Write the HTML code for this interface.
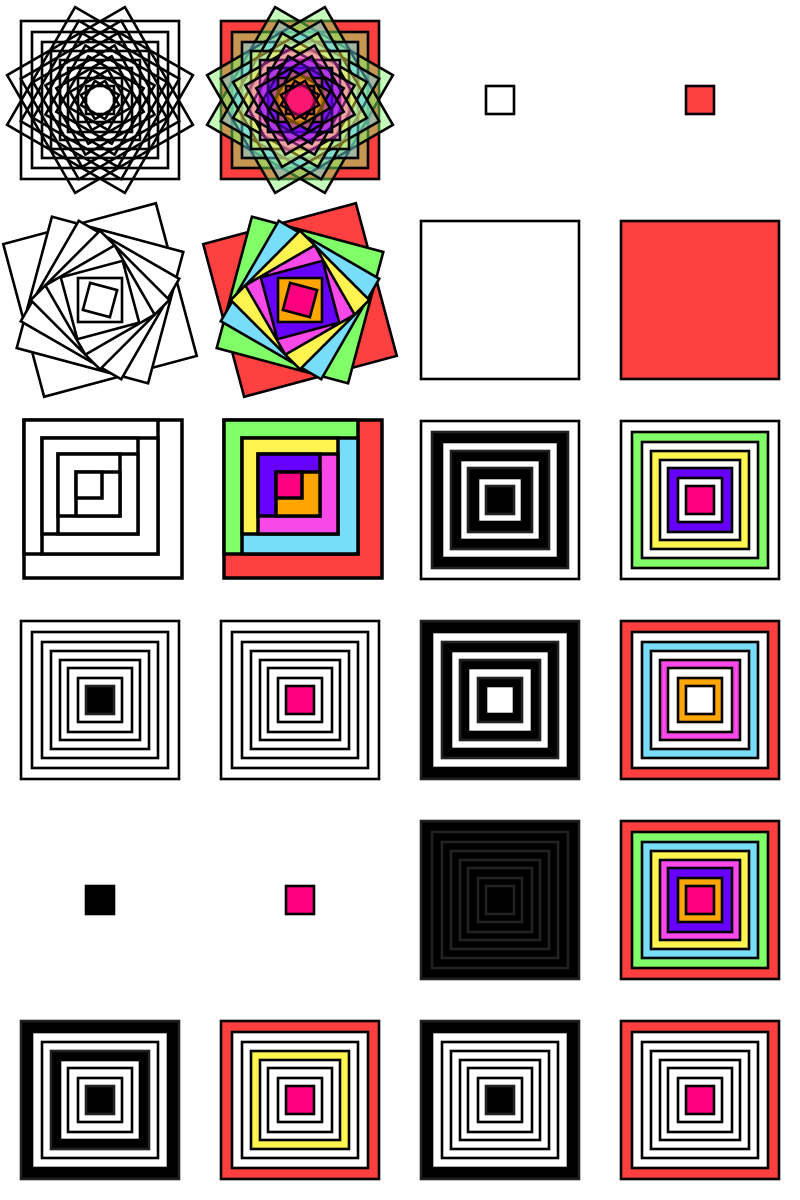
<!DOCTYPE html>
<html><head><meta charset="utf-8"><style>
html,body{margin:0;padding:0;background:#fff;}
svg{display:block;}
</style></head><body>
<svg id="c" width="800" height="1200" viewBox="0 0 800 1200"></svg>
<script>
const NS='http://www.w3.org/2000/svg';
const halfSizes=[79,68,58,49,40,32,22,14];
const palette=['#ff4040','#80ff68','#78ddf8','#fff44f','#f848e8','#6600ff','#ffa500','#ff0080'];
const spiralAngles=[-15,15,30,45,60,75,90,105];
const starAngles=[0,30,60];
const lSizes=[158,134,116,96,80,62,44,26];
const W='#ffffff',K='#000000';
const cellFills={
 r3c3:[W,K,W,K,W,K,W,K],
 r3c4:[W,palette[1],W,palette[3],W,palette[5],W,palette[7]],
 r4c1:[W,W,W,W,W,W,W,K],
 r4c2:[W,W,W,W,W,W,W,palette[7]],
 r4c3:[K,W,K,W,K,W,K,W],
 r4c4:[palette[0],W,palette[2],W,palette[4],W,palette[6],W],
 r5c3:[K,K,K,K,K,K,K,K],
 r5c4:palette,
 r6c1:[K,W,W,K,W,W,W,K],
 r6c2:[palette[0],W,W,palette[3],W,W,W,palette[7]],
 r6c3:[K,W,W,W,W,W,W,K],
 r6c4:[palette[0],W,W,W,W,W,W,palette[7]]
};
const svg=document.getElementById('c');
function cellGroup(r,c){
 const g=document.createElementNS(NS,'g');
 g.setAttribute('transform','translate('+(c*200)+','+(r*200)+')');
 
 
 svg.appendChild(g);return g;
}
function sq(g,x,y,w,h,fill,stroke,sw,rot,op){
 const e=document.createElementNS(NS,'rect');
 e.setAttribute('x',x);e.setAttribute('y',y);e.setAttribute('width',w);e.setAttribute('height',h);
 e.setAttribute('fill',fill);e.setAttribute('stroke',stroke);e.setAttribute('stroke-width',sw);
 if(op!==undefined)e.setAttribute('fill-opacity',op);
 if(rot)e.setAttribute('transform','rotate('+rot+' 100 100)');
 
 
 g.appendChild(e);return e;
}
function centered(g,i,fill,rot,op,stroke){
 const h=halfSizes[i];
 sq(g,100-h,100-h,2*h,2*h,fill,stroke||'#000',2.6,rot,op);
}
// row 1 star patterns
[[0,false],[1,true]].forEach(([c,col])=>{
 const g=cellGroup(0,c);
 halfSizes.forEach((h,i)=>{
  const angs=i===0?[0]:starAngles;
  angs.forEach(a=>centered(g,i,col?palette[i]:'none',a,col?(i===0?1:0.45):undefined));
 });
});
{const g=cellGroup(0,2);centered(g,7,W);}
{const g=cellGroup(0,3);centered(g,7,palette[0]);}
// row 2 spirals
[[0,false],[1,true]].forEach(([c,col])=>{
 const g=cellGroup(1,c);
 halfSizes.forEach((h,i)=>centered(g,i,col?palette[i]:W,spiralAngles[i]));
});
{const g=cellGroup(1,2);centered(g,0,W);}
{const g=cellGroup(1,3);centered(g,0,palette[0]);}
// row 3 L-spirals
[[0,false],[1,true]].forEach(([c,col])=>{
 const g=cellGroup(2,c);
 let x=24,y=20,s=lSizes[0];
 halfSizes.forEach((h,i)=>{
  s=lSizes[i];
  if(i>0){
   const prev=lSizes[i-1];
   if(i%2===0){x=x+prev-s;y=y+prev-s;}
  }
  sq(g,x,y,s,s,col?palette[i]:W,'#000',3.5);
 });
});
// fill-pattern cells
Object.keys(cellFills).forEach(k=>{
 const r=+k[1]-1,c=+k[3]-1;
 const g=cellGroup(r,c);
 cellFills[k].forEach((f,i)=>centered(g,i,f,0,undefined,f===K?'#222':'#000'));
});
{const g=cellGroup(4,0);centered(g,7,K);}
{const g=cellGroup(4,1);centered(g,7,palette[7]);}
</script>
</body></html>
